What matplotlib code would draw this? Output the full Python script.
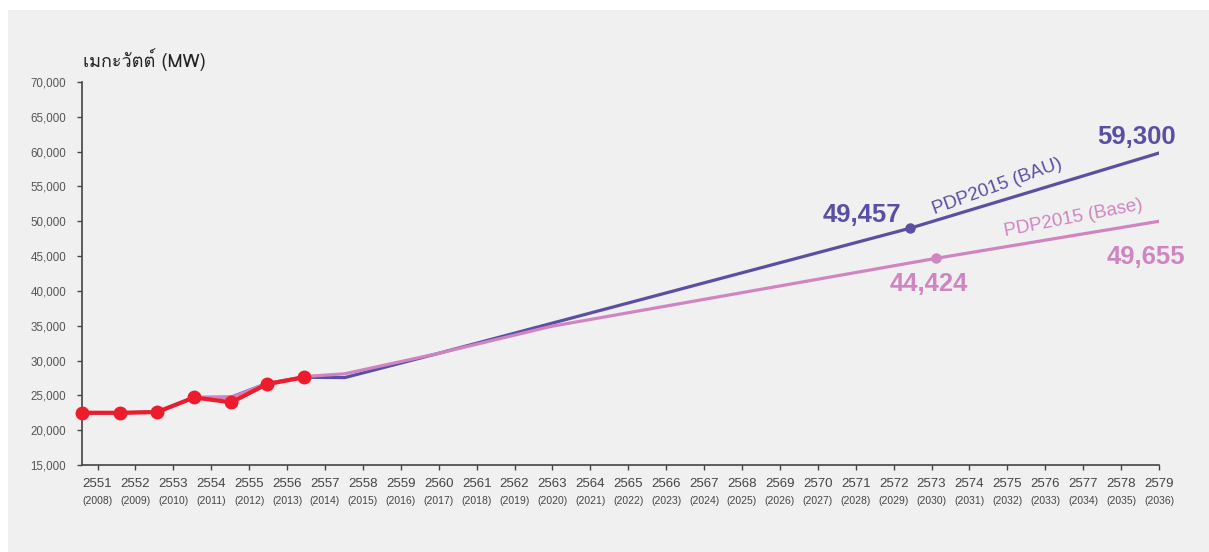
import matplotlib
matplotlib.use("Agg")
import matplotlib.pyplot as plt
from matplotlib import font_manager
from matplotlib.ft2font import FT2Font
from matplotlib.patches import Rectangle

# x position 0 = tick of 2551, 1 = 2552, ...
years_be = [str(y) for y in range(2551, 2580)]
years_ce = ["(%d)" % y for y in range(2008, 2037)]

hist_x = [-0.40, 0.59, 1.57, 2.55, 3.53, 4.46, 5.45]
hist_mw = [22500, 22500, 22600, 24700, 24000, 26600, 27600]

bau_x = [-0.40, 0.59, 1.57, 2.55, 3.53, 4.46, 5.45, 6.52, 8.97, 21.43, 28.0]
bau_mw = [22500, 22500, 22600, 24700, 24750, 26700, 27600, 27550, 31000, 49000, 59800]

base_x = [-0.40, 0.59, 1.57, 2.55, 3.53, 4.46, 5.45, 6.52, 8.97, 11.96, 22.12, 28.0]
base_mw = [22500, 22500, 22600, 24700, 24700, 26700, 27700, 28100, 31000, 34900, 44680, 50000]

bau_dot = (21.43, 49000)
base_dot = (22.12, 44680)


def findThaiFont():
    for f in font_manager.fontManager.ttflist:
        try:
            if 0x0E40 in FT2Font(f.fname).get_charmap():
                return f.name
        except Exception:
            continue
    return "DejaVu Sans"


thai = findThaiFont()
plt.rcParams['font.family'] = ['Liberation Sans', 'DejaVu Sans']

BAU_C = '#5a4fa5'
BASE_C = '#d085c1'
RED_C = '#ec1c2d'

fig = plt.figure(figsize=(12.09, 5.52), dpi=100)
fig.patch.set_facecolor('white')
fig.patches.append(Rectangle((8/1209, 0), 1, 1 - 10/552, transform=fig.transFigure,
                             facecolor='#f0f0f0', edgecolor='none', zorder=-10))
ax = fig.add_axes([82/1209, 1 - 465/552, (1159-82)/1209, (465-82)/552])
ax.set_facecolor('none')

ax.plot(bau_x, bau_mw, color=BAU_C, lw=2.3, solid_joinstyle='miter', zorder=2)
ax.plot(base_x, base_mw, color=BASE_C, lw=2.3, solid_joinstyle='miter', zorder=3)
ax.plot(hist_x, hist_mw, color=RED_C, lw=3, marker='o', ms=9, zorder=4, clip_on=False)
ax.plot(*bau_dot, 'o', color=BAU_C, ms=6.5, zorder=5)
ax.plot(*base_dot, 'o', color=BASE_C, ms=6.5, zorder=5)

ax.set_xlim(-0.41, 28)
ax.set_ylim(15000, 70000)
ax.set_yticks(range(15000, 70001, 5000))
ax.set_yticklabels(["{:,}".format(v) for v in range(15000, 70001, 5000)])
ax.set_xticks(range(len(years_be)))
ax.set_xticklabels(years_be)

for s in ['top', 'right']:
    ax.spines[s].set_visible(False)
for s in ['left', 'bottom']:
    ax.spines[s].set_color('#444444')
    ax.spines[s].set_linewidth(1.2)
ax.tick_params(axis='y', length=3.5, width=1, color='#444444', labelsize=8.3,
               labelcolor='#555555', pad=8)
ax.tick_params(axis='x', length=3.5, width=1, color='#444444', labelsize=9.5,
               labelcolor='#444444', pad=6)

for i, lab in enumerate(years_ce):
    ax.text(i, -0.095, lab, transform=ax.get_xaxis_transform(), ha='center',
            va='center', fontsize=7.5, color='#444444')

fig.text(83/1209, 1 - 60/552, "เมกะวัตต์ (MW)", family=[thai, 'DejaVu Sans'],
         fontsize=13, color='#222222', ha='left', va='center')

# value labels
bold = dict(fontsize=18.5, fontweight='bold', ha='center', va='center')
ax.annotate("49,457", xy=(862/1209, 1 - 215/552), xycoords='figure fraction', color=BAU_C, **bold)
ax.annotate("59,300", xy=(1137/1209, 1 - 137/552), xycoords='figure fraction', color=BAU_C, **bold)
ax.annotate("44,424", xy=(929/1209, 1 - 284/552), xycoords='figure fraction', color=BASE_C, **bold)
ax.annotate("49,655", xy=(1146/1209, 1 - 257/552), xycoords='figure fraction', color=BASE_C, **bold)

ax.annotate("PDP2015 (BAU)", xy=(997/1209, 1 - 187/552), xycoords='figure fraction',
            color=BAU_C, fontsize=13.5, rotation=20, ha='center', va='center')
ax.annotate("PDP2015 (Base)", xy=(1073/1209, 1 - 218/552), xycoords='figure fraction',
            color=BASE_C, fontsize=13.5, rotation=11, ha='center', va='center')

fig.savefig("out.png", dpi=100, facecolor=fig.get_facecolor())
